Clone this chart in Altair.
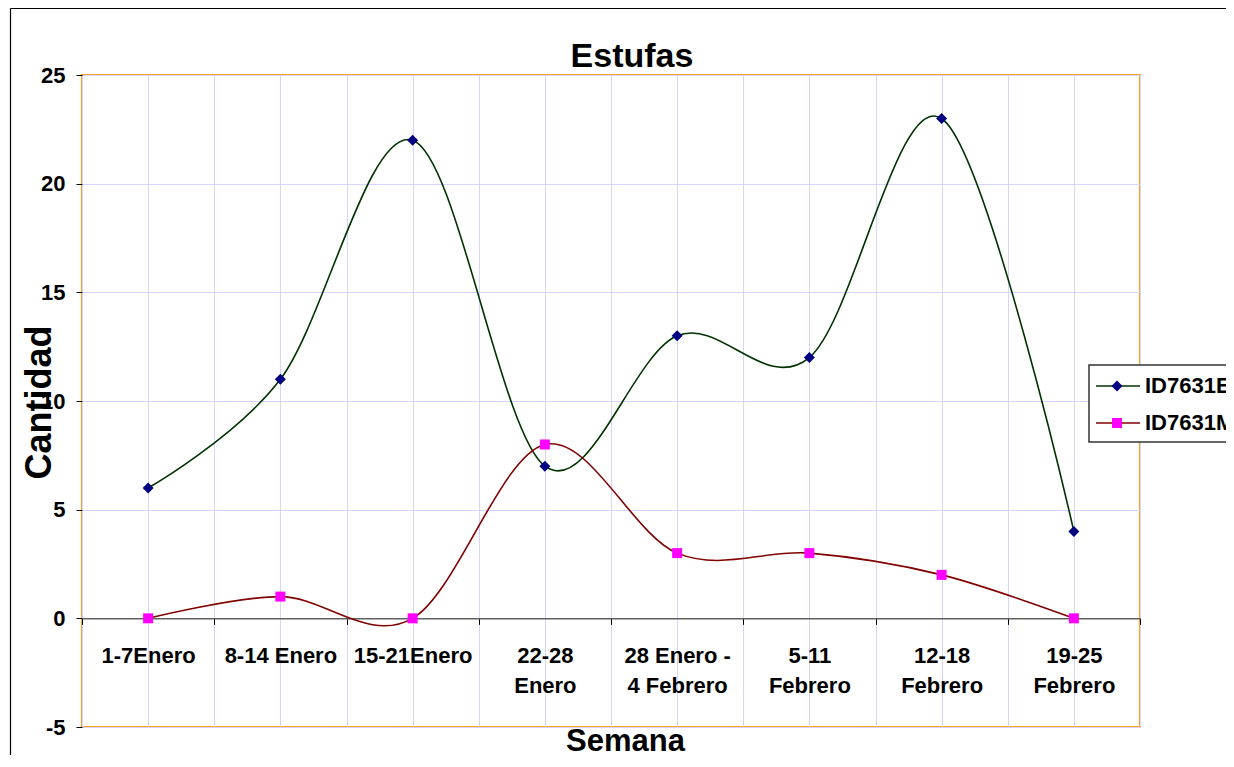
import json
import altair as alt
import pandas as pd

# ---------------- data ----------------
titulo = "Estufas"
semanas = ["1-7Enero", "8-14 Enero", "15-21Enero", "22-28\nEnero",
           "28 Enero -\n4 Febrero", "5-11\nFebrero", "12-18\nFebrero", "19-25\nFebrero"]
serie_names = ["ID7631E", "ID7631M"]
valores_e = [6, 11, 22, 7, 13, 12, 23, 4]
valores_m = [0, 1, 0, 8, 3, 3, 2, 0]
y_ticks = [-5, 0, 5, 10, 15, 20, 25]

line_colors = ["#003300", "#800000"]
marker_colors = ["#000080", "#ff00ff"]
marker_shapes = ["diamond", "square"]
marker_sizes = [121, 100]

rows = []
for name, vals in zip(serie_names, [valores_e, valores_m]):
    for i, (s, v) in enumerate(zip(semanas, vals)):
        rows.append({"semana": s, "idx": i, "serie": name, "valor": v})
df = pd.DataFrame(rows)

W, H = 1058, 652
YMIN, YMAX = -5, 25
FONT = "Liberation Sans"

label_arr = json.dumps([s.replace("\n", "|") for s in semanas])
label_expr = (f"(datum.value % 1) == 0.5 ? split({label_arr}[floor(datum.value)], '|') : ''")

x_enc = alt.X(
    "pos:Q",
    scale=alt.Scale(domain=[0, len(semanas)], nice=False, zero=False),
    axis=alt.Axis(
        values=[i * 0.5 for i in range(2 * len(semanas) + 1)],
        labelExpr=label_expr,
        labelOverlap=False, labelFlush=False, labelBound=False,
        labelFont=FONT, labelFontSize=22, labelFontWeight="bold", labelColor="black",
        labelPadding=21, labelLineHeight=30, labelBaseline="top",
        tickSize=6, tickColor="black", tickWidth=1,
        tickOpacity={"condition": {"test": "(datum.value % 1) == 0", "value": 1}, "value": 0},
        domainColor="#606060", domainWidth=1.5,
        grid=True, gridColor="#d4d4ff", gridWidth=1,
        offset=-H * (0 - YMIN) / (YMAX - YMIN),
        title="Semana", titleFont=FONT, titleFontSize=31, titleFontWeight="bold",
        titleColor="black", titleX=543, titleY=132, titleAlign="center",
        titleBaseline="alphabetic", titleAngle=0,
    ),
)
y_enc = alt.Y(
    "valor:Q",
    scale=alt.Scale(domain=[YMIN, YMAX], nice=False, zero=False),
    axis=alt.Axis(
        values=y_ticks, domain=False, labelExpr="'' + datum.value",
        labelFont=FONT, labelFontSize=22, labelFontWeight="bold", labelColor="black",
        labelPadding=11, tickSize=6, tickColor="black", tickWidth=1,
        grid=True, gridColor="#d4d4ff", gridWidth=1,
        title="Cantidad", titleFont=FONT, titleFontSize=36, titleFontWeight="bold",
        titleColor="black", titleAngle=270, titleX=-43, titleY=327,
        titleAlign="center", titleBaseline="middle",
    ),
)

base = alt.Chart(df).transform_calculate(pos="datum.idx + 0.5")

lines = base.mark_line(interpolate="cardinal", tension=0, strokeWidth=1.6).encode(
    x=x_enc, y=y_enc,
    stroke=alt.Stroke("serie:N", scale=alt.Scale(domain=serie_names, range=line_colors), legend=None),
    detail="serie:N",
)
points = base.mark_point(filled=True, opacity=1, strokeWidth=0).encode(
    x=x_enc, y=y_enc,
    fill=alt.Fill("serie:N", scale=alt.Scale(domain=serie_names, range=marker_colors), legend=None),
    shape=alt.Shape("serie:N", scale=alt.Scale(domain=serie_names, range=marker_shapes), legend=None),
    size=alt.Size("serie:N", scale=alt.Scale(domain=serie_names, range=marker_sizes), legend=None),
)

one = alt.Data(values=[{"k": 1}])

# outer chart-area frame: only its left and top edges are visible in the reference
frame_left = alt.Chart(one).mark_rule(color="black", strokeWidth=1.2).encode(
    x=alt.value(-71.5), y=alt.value(-66.5), y2=alt.value(700)
)
frame_top = alt.Chart(one).mark_rule(color="black", strokeWidth=1.2).encode(
    x=alt.value(-71.5), x2=alt.value(1150), y=alt.value(-66.5)
)

# chart title as text
title_layer = alt.Chart(alt.Data(values=[{"t": titulo}])).mark_text(
    align="center", baseline="alphabetic", font=FONT, fontSize=34, fontWeight="bold",
    color="black"
).encode(x=alt.value(550), y=alt.value(-8), text="t:N")

# manual legend (clipped by the right edge, as in the reference)
LX = 1007
legend_layers = [
    alt.Chart(one).mark_rect(fill="white", stroke="#333333", strokeWidth=1.5).encode(
        x=alt.value(LX), x2=alt.value(1160), y=alt.value(290), y2=alt.value(367)
    )
]
row_y = [311, 348]
for name, lc, mc, shp, sz, yy in zip(serie_names, line_colors, marker_colors,
                                     marker_shapes, marker_sizes, row_y):
    d = alt.Data(values=[{"serie": name}])
    legend_layers.append(
        alt.Chart(d).mark_rule(color=lc, strokeWidth=1.6).encode(
            x=alt.value(LX + 7), x2=alt.value(LX + 51), y=alt.value(yy))
    )
    legend_layers.append(
        alt.Chart(d).mark_point(filled=True, shape=shp, size=sz, color=mc, opacity=1,
                                strokeWidth=0).encode(x=alt.value(LX + 28), y=alt.value(yy))
    )
    legend_layers.append(
        alt.Chart(d).mark_text(align="left", baseline="middle", font=FONT, fontSize=22,
                               fontWeight="bold", color="black").encode(
            x=alt.value(LX + 56), y=alt.value(yy), text="serie:N")
    )

chart = alt.layer(frame_left, frame_top, lines, points, title_layer, *legend_layers).properties(
    width=W, height=H,
    autosize=alt.AutoSizeParams(type="none"),
    padding={"left": 74, "top": 67, "right": 86, "bottom": 28},
    background="white",
).configure_view(stroke="#ffa11f", strokeWidth=2)

chart.save("out.html", embed_options={"renderer": "svg", "actions": False})
